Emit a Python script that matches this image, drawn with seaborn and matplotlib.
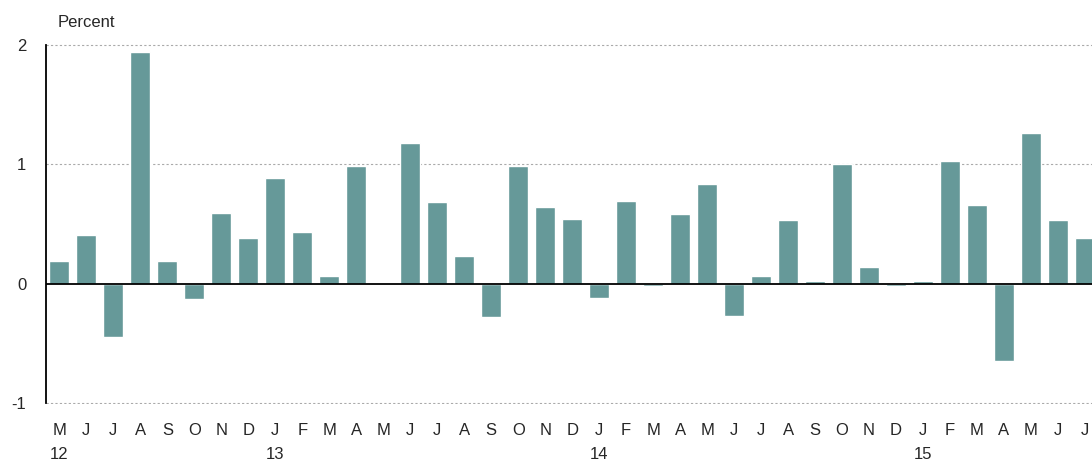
import numpy as np
import pandas as pd
import matplotlib
matplotlib.use("Agg")
import matplotlib.pyplot as plt
import seaborn as sns

# monthly percent change, May 2012 - Jul 2015
months = ["M","J","J","A","S","O","N","D",
          "J","F","M","A","M","J","J","A","S","O","N","D",
          "J","F","M","A","M","J","J","A","S","O","N","D",
          "J","F","M","A","M","J","J"]
values = [0.19, 0.41, -0.45, 1.94, 0.19, -0.13, 0.59, 0.38,
          0.88, 0.43, 0.06, 0.98, 0.0, 1.18, 0.68, 0.23, -0.28, 0.98, 0.64, 0.54,
          -0.12, 0.69, -0.02, 0.58, 0.83, -0.27, 0.06, 0.53, 0.02, 1.00, 0.14, -0.02,
          0.02, 1.03, 0.66, -0.65, 1.26, 0.53, 0.38]
year_labels = {0: "12", 8: "13", 20: "14", 32: "15"}

df = pd.DataFrame({"pos": range(len(values)), "value": values})

sns.set_theme(style="white")
plt.rcParams['font.family'] = ['Liberation Sans', 'DejaVu Sans']

fig = plt.figure(figsize=(10.92, 4.63), dpi=100)
ax = fig.add_axes([0.042, 0.128, 0.958, 0.777])

sns.barplot(data=df, x="pos", y="value", color="#669999", saturation=1,
            width=0.74, ax=ax, native_scale=True)

ax.set_xlim(-0.5, 38.26)
ax.set_ylim(-1.005, 2.005)
ax.set_yticks([-1, 0, 1, 2])
ax.set_yticklabels(["-1", "0", "1", "2"], fontsize=12)
for y in [-1, 1, 2]:
    ax.axhline(y, color="#aaaaaa", linestyle=(0, (2, 2)), linewidth=0.8, zorder=0)
ax.axhline(0, color="black", linewidth=1.3, zorder=3)

ax.set_xticks(range(len(months)))
lbls = [m + ("\n" + year_labels[i] if i in year_labels else "\n") for i, m in enumerate(months)]
ax.set_xticklabels(lbls, fontsize=12, linespacing=1.75)
ax.tick_params(axis="x", length=0, pad=14)
ax.tick_params(axis="y", length=0, pad=14)
ax.set_xlabel("")
ax.set_ylabel("")

for s in ["top", "right", "bottom"]:
    ax.spines[s].set_visible(False)
ax.spines["left"].set_color("black")
ax.spines["left"].set_linewidth(1.3)
ax.spines["left"].set_bounds(-1, 2)

fig.text(0.053, 0.935, "Percent", fontsize=12, ha="left", va="bottom")

fig.savefig("out.png", dpi=100)
